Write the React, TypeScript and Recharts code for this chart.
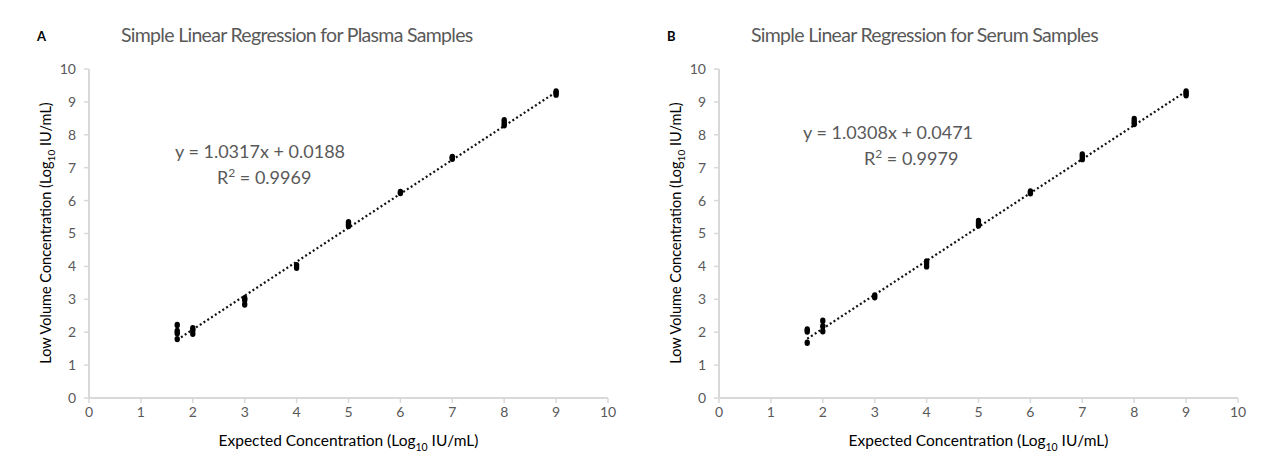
import { ReferenceLine, Scatter, ScatterChart, XAxis, YAxis } from "recharts";

// Plasma (panel A): expected log10 vs measured log10
const plasmaX = [1.7, 1.7, 1.7, 1.7, 2, 2, 2, 3, 3, 3, 4, 4, 5, 5, 5, 6, 6, 7, 7, 7, 8, 8, 8, 9, 9, 9];
const plasmaY = [2.22, 2.04, 1.97, 1.79, 2.12, 2.05, 1.95, 3.03, 2.98, 2.84, 4.04, 3.96, 5.34, 5.28, 5.23, 6.26, 6.23, 7.33, 7.3, 7.27, 8.44, 8.36, 8.29, 9.32, 9.27, 9.22];

// Serum (panel B)
const serumX = [1.7, 1.7, 1.7, 2, 2, 2, 3, 3, 4, 4, 4, 5, 5, 5, 6, 6, 7, 7, 7, 8, 8, 8, 9, 9, 9];
const serumY = [2.08, 2.02, 1.68, 2.35, 2.18, 2.03, 3.12, 3.06, 4.15, 4.08, 4.0, 5.38, 5.3, 5.24, 6.28, 6.22, 7.4, 7.33, 7.26, 8.48, 8.4, 8.33, 9.32, 9.26, 9.2];

// trend line ends
const plasmaTrend = [[1.7, 1.77], [9, 9.3]];
const serumTrend = [[1.7, 1.8], [9, 9.32]];

const axisTicks = [0, 1, 2, 3, 4, 5, 6, 7, 8, 9, 10];

const font = "Lato, 'Open Sans', sans-serif";
const gray = "#595959";
const axisColor = "#d9d9d9";

type PanelProps = {
  left: number;
  width: number;
  letter: string;
  title: string;
  xs: number[];
  ys: number[];
  trend: number[][];
  eq: string;
  r2: string;
  eqLeft: number;
  eqTop: number;
  r2Left: number;
};

const Panel = ({ left, width, letter, title, xs, ys, trend, eq, r2, eqLeft, eqTop, r2Left }: PanelProps) => {
  const points = xs.map((x, i) => ({ x, y: ys[i] }));
  const plotLeft = 89;
  const plotRight = width - 32;
  const center = (plotLeft + plotRight) / 2;
  return (
    <div style={{ position: "absolute", left, top: 0, width, height: 466 }}>
      <div style={{ position: "absolute", left: 37, top: 28, fontFamily: font, fontWeight: 700, fontSize: 13, color: "#000" }}>
        {letter}
      </div>
      <div
        style={{
          position: "absolute",
          left: 121,
          top: 23,
          fontFamily: font,
          fontSize: 19.5,
          letterSpacing: -0.7,
          color: gray,
          whiteSpace: "nowrap",
        }}
      >
        {title}
      </div>
      <ScatterChart width={width} height={466} margin={{ top: 69, right: 32, bottom: 38, left: 0 }}>
        <XAxis
          type="number"
          dataKey="x"
          domain={[0, 10]}
          ticks={axisTicks}
          interval={0}
          tick={{ fill: gray, fontSize: 14, fontFamily: font }}
          axisLine={{ stroke: axisColor, strokeWidth: 2 }}
          tickLine={{ stroke: axisColor, strokeWidth: 1.5 }}
          tickSize={5}
          tickMargin={4}
          height={30}
        />
        <YAxis
          type="number"
          dataKey="y"
          domain={[0, 10]}
          ticks={axisTicks}
          interval={0}
          tick={{ fill: gray, fontSize: 14, fontFamily: font }}
          axisLine={{ stroke: axisColor, strokeWidth: 2 }}
          tickLine={{ stroke: axisColor, strokeWidth: 1.5 }}
          tickSize={5}
          tickMargin={8}
          width={89}
        />
        <ReferenceLine
          segment={[{ x: trend[0][0], y: trend[0][1] }, { x: trend[1][0], y: trend[1][1] }]}
          stroke="#111"
          strokeWidth={2.2}
          strokeDasharray="2 2.5"
        />
        <Scatter
          data={points}
          fill="#000"
          isAnimationActive={false}
          shape={(p: any) => <ellipse cx={p.cx} cy={p.cy} rx={2.7} ry={3.2} fill="#000" />}
        />
      </ScatterChart>
      <div style={{ position: "absolute", left: eqLeft, top: eqTop, fontFamily: font, fontSize: 18, color: gray, whiteSpace: "nowrap" }}>
        {eq}
      </div>
      <div style={{ position: "absolute", left: r2Left, top: eqTop + 25, fontFamily: font, fontSize: 18, color: gray, whiteSpace: "nowrap" }}>
        R<sup style={{ fontSize: 12 }}>2</sup> = {r2}
      </div>
      <div
        style={{
          position: "absolute",
          left: 47,
          top: 233,
          transform: "translate(-50%, -50%) rotate(-90deg)",
          fontFamily: font,
          fontSize: 14.5,
          color: "#000",
          whiteSpace: "nowrap",
        }}
      >
        Low Volume Concentration (Log<sub style={{ fontSize: 10 }}>10</sub> IU/mL)
      </div>
      <div
        style={{
          position: "absolute",
          left: center,
          top: 442,
          transform: "translate(-50%, -50%)",
          fontFamily: font,
          fontSize: 15.5,
          color: "#000",
          whiteSpace: "nowrap",
        }}
      >
        Expected Concentration (Log<sub style={{ fontSize: 10.5 }}>10</sub> IU/mL)
      </div>
    </div>
  );
};

export default function App() {
  return (
    <div style={{ position: "absolute", left: 0, top: 0, width: 1269, height: 466, background: "#fff", overflow: "hidden" }}>
      <Panel
        left={0}
        width={640}
        letter="A"
        title="Simple Linear Regression for Plasma Samples"
        xs={plasmaX}
        ys={plasmaY}
        trend={plasmaTrend}
        eq="y = 1.0317x + 0.0188"
        r2="0.9969"
        eqLeft={175}
        eqTop={140}
        r2Left={217}
      />
      <Panel
        left={630}
        width={640}
        letter="B"
        title="Simple Linear Regression for Serum Samples"
        xs={serumX}
        ys={serumY}
        trend={serumTrend}
        eq="y = 1.0308x + 0.0471"
        r2="0.9979"
        eqLeft={173}
        eqTop={121}
        r2Left={234}
      />
    </div>
  );
}
